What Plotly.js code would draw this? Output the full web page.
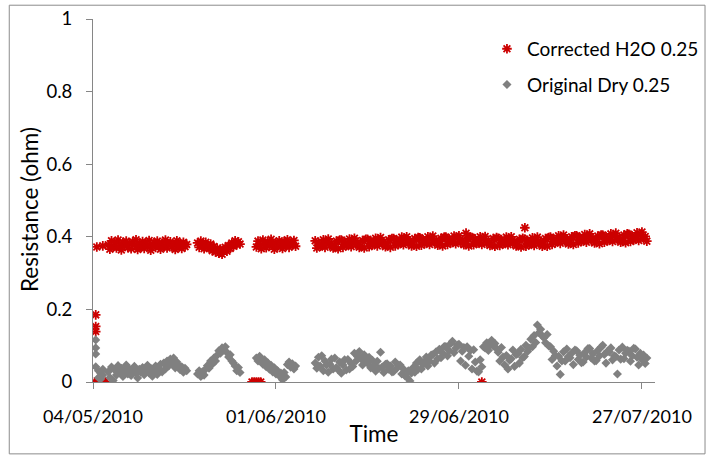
<!DOCTYPE html>
<html>
<head>
<meta charset="utf-8">
<script src="https://cdn.plot.ly/plotly-3.0.1.min.js"></script>
<style>html,body{margin:0;padding:0;background:#fff;}#chart{width:708px;height:455px;}</style>
</head>
<body>
<div id="chart"></div>
<script>
// Measurement blocks: each block is sampled every 6 hours from its start time
const SAMPLE_HOURS = 6;
const blockStarts = ['2010-05-06T08:00:00Z', '2010-05-20T00:00:00Z', '2010-05-29T00:00:00Z', '2010-06-07T00:00:00Z'];

// Corrected H2O 0.25 (ohm), per block
const redBlock1 = [.378,.366,.389,.372,.383,.369,.391,.376,.364,.385,.374,.388,.370,.381,.367,.386,
 .377,.392,.365,.380,.373,.387,.368,.382,.375,.390,.363,.379,.384,.371,.388,.376,
 .366,.383,.374,.391,.369,.380,.386,.372,.378,.365,.389,.375,.382,.368,.385,.373,.379];
const redBlock2 = [.383,.371,.388,.376,.367,.385,.374,.369,.380,.362,.373,.358,.368,.355,.366,.352,.364,.371,.360,.376,.368,.383,.374,.389,.378,.386,.380];
const redBlock3 = [.372,.388,.377,.367,.391,.381,.370,.386,.375,.393,.379,.366,.384,.373,.389,.380,.368,.387,.376,.392,.371,.383,.378,.390,.374];
const redBlock4 = [
 .389,.369,.384,.374, .377,.392,.371,.386, .394,.376,.382,.369, .373,.388,.367,.391,
 .391,.371,.386,.376, .379,.394,.373,.388, .396,.378,.384,.371, .375,.390,.369,.393,
 .393,.373,.388,.378, .381,.396,.375,.390, .398,.380,.386,.373, .377,.392,.371,.395,
 .395,.375,.390,.380, .384,.399,.378,.393, .400,.382,.388,.375, .380,.395,.374,.398,
 .397,.377,.392,.382, .385,.400,.379,.394, .402,.384,.390,.377, .381,.396,.375,.399,
 .399,.379,.394,.384, .387,.402,.381,.396, .403,.385,.391,.378, .381,.396,.375,.399,
 .398,.378,.393,.383, .385,.400,.379,.394, .401,.383,.389,.376, .380,.395,.374,.398,
 .396,.376,.391,.381, .384,.399,.378,.393, .400,.382,.388,.375, .378,.393,.372,.396,
 .394,.374,.389,.379, .382,.397,.376,.391, .399,.381,.387,.374, .380,.395,.374,.398,
 .399,.379,.394,.384, .388,.403,.382,.397, .405,.387,.393,.380, .385,.400,.379,.403,
 .403,.383,.398,.388, .391,.406,.385,.400, .408,.390,.396,.383, .387,.402,.381,.405,
 .405,.385,.400,.390, .393,.408,.387,.402, .410,.392,.398,.385, .390,.405,.384,.408,
 .407,.387,.402,.392, .396,.411,.390,.405, .413,.395,.401,.388];
const redExtraTimes = ['2010-05-04 06:00','2010-05-04 10:00','2010-05-04 10:00','2010-05-04 10:00','2010-05-04 14:00','2010-05-04 22:00','2010-05-05 06:00','2010-05-05 12:00','2010-05-05 14:00','2010-05-05 22:00','2010-05-28 08:00','2010-05-28 16:00','2010-05-29 00:00','2010-05-29 08:00','2010-05-29 16:00','2010-06-30 02:00','2010-07-02 12:00','2010-07-09 02:00'];
const redExtraValues = [0,.185,.153,.139,.372,0,0,.375,0,0,0,0,0,0,0,.41,0,.425];

// Original Dry 0.25 (ohm), per block
const grayBlock1 = [.028,.012,.041,.004,.033,.019,.045,.026,.038,.015,.031,.047,.022,.036,.018,.029,
 .043,.024,.011,.035,.027,.040,.020,.032,.046,.025,.038,.016,.030,.044,.021,.037,
 .049,.028,.052,.036,.058,.044,.063,.051,.066,.039,.055,.046,.034,.042,.027,.038,.031];
const grayBlock2 = [.022,.031,.015,.028,.019,.036,.045,.038,.058,.049,.066,.058,.074,.086,.079,.094,.088,.097,.081,.069,.075,.058,.052,.044,.031,.040,.026];
const grayBlock3 = [.066,.058,.071,.062,.049,.061,.042,.053,.035,.046,.028,.039,.022,.031,.017,.025,.006,.026,.014,.048,.055,.041,.050,.036,.044];
const grayBlock4 = [
 .052,.038,.068,.044, .072,.031,.058,.047, .027,.049,.063,.036, .066,.040,.034,.055,
 .024,.047,.061,.033, .062,.036,.051,.043, .079,.058,.070,.084, .064,.047,.075,.056,
 .052,.068,.039,.060, .046,.030,.057,.038, .082,.041,.026,.049, .050,.035,.044,.028,
 .029,.055,.038,.046, .047,.022,.036,.017, .014,.031,.003,.025, .040,.027,.052,.035,
 .061,.036,.048,.056, .069,.044,.058,.074, .075,.052,.083,.064, .090,.067,.079,.098,
 .098,.072,.086,.106, .112,.081,.093,.102, .104,.058,.085,.095, .046,.097,.071,.087,
 .036,.089,.055,.030, .028,.061,.042,.097, .094,.108,.087,.101, .115,.099,.106,.092,
 .082,.058,.095,.069, .047,.073,.036,.060, .064,.088,.043,.076, .078,.052,.090,.067,
 .070,.101,.084,.093, .118,.097,.128,.109, .157,.136,.145,.127, .122,.108,.131,.099,
 .097,.062,.085,.073, .044,.071,.021,.058, .083,.058,.091,.070, .067,.079,.048,.088,
 .086,.062,.074,.053, .055,.081,.069,.092, .092,.066,.078,.058, .059,.087,.072,.096,
 .101,.076,.052,.085, .083,.094,.061,.072, .070,.022,.088,.063, .096,.064,.079,.087,
 .085,.057,.072,.093, .091,.068,.047,.079, .062,.074,.051,.066];
const grayExtraTimes = ['2010-05-04 10:00','2010-05-04 10:00','2010-05-04 10:00','2010-05-04 10:00','2010-05-04 20:00','2010-05-04 20:00','2010-05-05 04:00','2010-05-05 04:00','2010-05-05 12:00','2010-05-05 12:00'];
const grayExtraValues = [.116,.094,.077,.042,.031,.012,.025,.008,.035,.019];

const tickDates = ['2010-05-04','2010-06-01','2010-06-29','2010-07-27'];
const tickLabels = ['04/05/2010','01/06/2010','29/06/2010','27/07/2010'];

function blockTimes(start, n) {
  const t0 = new Date(start).getTime();
  const out = [];
  for (let i = 0; i < n; i++) {
    out.push(new Date(t0 + i * SAMPLE_HOURS * 3600e3).toISOString().slice(0,16).replace('T',' '));
  }
  return out;
}
function assemble(blocks, extraT, extraV) {
  let x = [].concat(extraT), y = [].concat(extraV);
  blocks.forEach((b, k) => { x = x.concat(blockTimes(blockStarts[k], b.length)); y = y.concat(b); });
  return {x, y};
}
const red = assemble([redBlock1, redBlock2, redBlock3, redBlock4], redExtraTimes, redExtraValues);
const gray = assemble([grayBlock1, grayBlock2, grayBlock3, grayBlock4], grayExtraTimes, grayExtraValues);

const FONT = 'Lato, "Open Sans", sans-serif';

const traces = [
  {type:'scatter', mode:'markers', name:'Corrected H2O 0.25', x: red.x, y: red.y, legendgroup:'a',
   marker:{symbol:'asterisk-open', size:8, color:'#cc0000', line:{color:'#cc0000', width:1.8}}},
  {type:'scatter', mode:'markers', name:'Original Dry 0.25', x: gray.x, y: gray.y, legendgroup:'b',
   marker:{symbol:'diamond', size:7, color:'#808080', line:{width:0}}}
];

const layout = {
  width:708, height:455,
  margin:{l:93, r:53, t:19, b:73, pad:0, autoexpand:false},
  paper_bgcolor:'#fff', plot_bgcolor:'#fff',
  font:{family:FONT, size:18, color:'#000'},
  showlegend:true,
  legend:{x:0.701, y:0.97, xanchor:'left', yanchor:'top', font:{family:FONT, size:19, color:'#000'},
          bgcolor:'rgba(0,0,0,0)', tracegroupgap:8},
  xaxis:{type:'date', range:['2010-05-04','2010-07-29'], tickvals:tickDates, ticktext:tickLabels,
         showgrid:false, zeroline:false, showline:true, linecolor:'#868686', linewidth:1,
         ticks:'outside', ticklen:6, tickcolor:'#868686', ticklabelstandoff:12,
         tickfont:{family:FONT, size:18, color:'#000'},
         title:{text:'Time', font:{family:FONT, size:22.5, color:'#000'}, standoff:0}, automargin:false},
  yaxis:{range:[0,1], tickvals:[0,0.2,0.4,0.6,0.8,1], ticktext:['0','0.2','0.4','0.6','0.8','1'],
         showgrid:false, zeroline:false, showline:true, linecolor:'#868686', linewidth:1,
         ticks:'outside', ticklen:6, tickcolor:'#868686', ticklabelstandoff:10,
         tickfont:{family:FONT, size:18.5, color:'#000'}, automargin:false},
  annotations:[{text:'Resistance (ohm)', xref:'paper', yref:'paper', x:-0.112, y:0.474, textangle:-90,
                xanchor:'center', yanchor:'middle', showarrow:false, font:{family:FONT, size:22.5, color:'#000'}}],
  shapes:[{type:'rect', xref:'paper', yref:'paper', x0:-0.149, x1:1.089, y0:-0.198, y1:1.038,
           line:{color:'#8c8c8c', width:1}, fillcolor:'rgba(0,0,0,0)', layer:'below'}]
};

Plotly.newPlot('chart', traces, layout, {staticPlot:true, displayModeBar:false});
</script>
</body>
</html>
